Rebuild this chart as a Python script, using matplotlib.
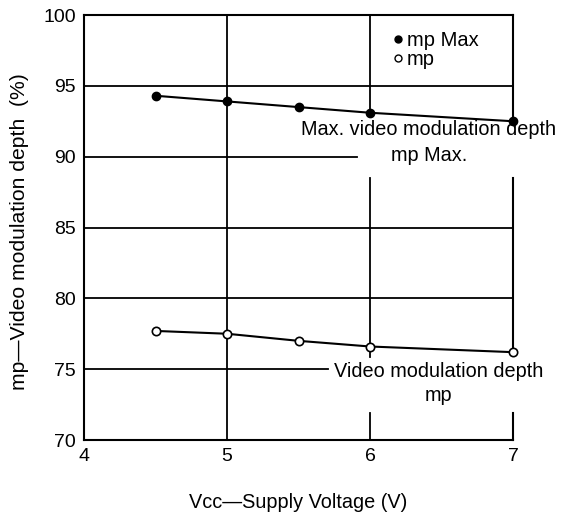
import matplotlib.pyplot as plt
from matplotlib.lines import Line2D

# supply voltage (V)
vcc = [4.5, 5.0, 5.5, 6.0, 7.0]
# max. video modulation depth (%)
mp_max = [94.3, 93.9, 93.5, 93.1, 92.5]
# video modulation depth (%)
mp = [77.7, 77.5, 77.0, 76.6, 76.2]

xticks = [4, 5, 6, 7]
yticks = [70, 75, 80, 85, 90, 95, 100]

plt.rcParams['font.family'] = ['Liberation Sans', 'DejaVu Sans']

fig = plt.figure(figsize=(5.66, 5.19), dpi=100)
ax = fig.add_axes([84/566, 79/519, 429/566, 425/519])
ax.set_xlim(4, 7)
ax.set_ylim(70, 100)

# grid lines, broken where the annotations sit
lw = 1.3
for y in [80, 85, 95]:
    ax.axhline(y, color='black', lw=lw)
ax.axhline(90, xmin=0, xmax=0.636, color='black', lw=lw)
ax.axhline(75, xmin=0, xmax=0.569, color='black', lw=lw)
ax.axvline(5, color='black', lw=lw)
for lo, hi in [(0, 0.0635), (0.195, 0.616), (0.774, 1)]:
    ax.axvline(6, ymin=lo, ymax=hi, color='black', lw=lw)
ax.spines['right'].set_visible(False)
for lo, hi in [(0, 0.0635), (0.209, 0.616), (0.753, 1)]:
    ax.axvline(7, ymin=lo, ymax=hi, color='black', lw=1.5, clip_on=False)
for s in ['left', 'top', 'bottom']:
    ax.spines[s].set_linewidth(1.5)

ax.plot(vcc, mp_max, color='black', lw=1.5, marker='o', ms=6,
        mfc='black', mec='black', zorder=5, clip_on=False)
ax.plot(vcc, mp, color='black', lw=1.5, marker='o', ms=6,
        mfc='white', mec='black', mew=1.2, zorder=5, clip_on=False)

ax.text(6.41, 91.0, "Max. video modulation depth\nmp Max.", ha='center', va='center',
        fontsize=14.3, linespacing=1.45)
ax.text(6.48, 74.0, "Video modulation depth\nmp", ha='center', va='center',
        fontsize=14.3, linespacing=1.35)

handles = [Line2D([], [], ls='none', marker='o', ms=5, mfc='black', mec='black'),
           Line2D([], [], ls='none', marker='o', ms=5, mfc='white', mec='black')]
ax.legend(handles, ['mp Max', 'mp'], loc='upper left', bbox_to_anchor=(0.712, 0.962),
          frameon=False, fontsize=14.5, handletextpad=0.05, handlelength=0.8,
          labelspacing=0.0, borderaxespad=0, borderpad=0)

ax.set_xticks(xticks)
ax.set_yticks(yticks)
ax.tick_params(length=0, labelsize=14, pad=6)

fig.text(298/566, 1 - 502/519, "Vcc\u2014Supply Voltage (V)", ha='center', va='center', fontsize=14.3)
fig.text(20/566, 1 - 232/519, "mp\u2014Video modulation depth  (%)", ha='center', va='center',
         rotation=90, fontsize=15.2)

fig.savefig("out.png", dpi=100)
